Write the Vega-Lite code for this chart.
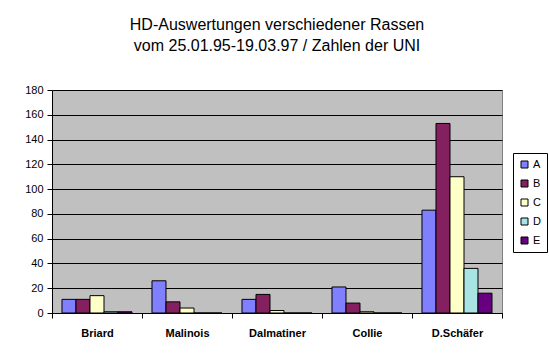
{
  "$schema": "https://vega.github.io/schema/vega-lite/v6.json",
  "autosize": "none",
  "width": 450,
  "height": 223,
  "padding": {"left": 52, "top": 90, "right": 47, "bottom": 46},
  "background": "white",
  "title": {
    "text": ["HD-Auswertungen verschiedener Rassen", "vom 25.01.95-19.03.97 / Zahlen der UNI"],
    "font": "Liberation Sans",
    "fontSize": 16,
    "fontWeight": "normal",
    "lineHeight": 21,
    "color": "black",
    "anchor": "middle",
    "offset": 30
  },
  "data": {
    "values": [
      {"rasse": "Briard", "grad": "A", "anzahl": 11},
      {"rasse": "Briard", "grad": "B", "anzahl": 11},
      {"rasse": "Briard", "grad": "C", "anzahl": 14},
      {"rasse": "Briard", "grad": "D", "anzahl": 1},
      {"rasse": "Briard", "grad": "E", "anzahl": 1},
      {"rasse": "Malinois", "grad": "A", "anzahl": 26},
      {"rasse": "Malinois", "grad": "B", "anzahl": 9},
      {"rasse": "Malinois", "grad": "C", "anzahl": 4},
      {"rasse": "Malinois", "grad": "D", "anzahl": 0},
      {"rasse": "Malinois", "grad": "E", "anzahl": 0},
      {"rasse": "Dalmatiner", "grad": "A", "anzahl": 11},
      {"rasse": "Dalmatiner", "grad": "B", "anzahl": 15},
      {"rasse": "Dalmatiner", "grad": "C", "anzahl": 2},
      {"rasse": "Dalmatiner", "grad": "D", "anzahl": 0},
      {"rasse": "Dalmatiner", "grad": "E", "anzahl": 0},
      {"rasse": "Collie", "grad": "A", "anzahl": 21},
      {"rasse": "Collie", "grad": "B", "anzahl": 8},
      {"rasse": "Collie", "grad": "C", "anzahl": 1},
      {"rasse": "Collie", "grad": "D", "anzahl": 0},
      {"rasse": "Collie", "grad": "E", "anzahl": 0},
      {"rasse": "D.Schäfer", "grad": "A", "anzahl": 83},
      {"rasse": "D.Schäfer", "grad": "B", "anzahl": 153},
      {"rasse": "D.Schäfer", "grad": "C", "anzahl": 110},
      {"rasse": "D.Schäfer", "grad": "D", "anzahl": 36},
      {"rasse": "D.Schäfer", "grad": "E", "anzahl": 16}
    ]
  },
  "mark": {"type": "bar", "stroke": "black", "strokeWidth": 1},
  "encoding": {
    "x": {
      "field": "rasse",
      "type": "nominal",
      "sort": ["Briard", "Malinois", "Dalmatiner", "Collie", "D.Schäfer"],
      "scale": {"paddingInner": 0, "paddingOuter": 0},
      "axis": {
        "title": null,
        "labelAngle": 0,
        "labelFont": "Liberation Sans",
        "labelFontSize": 11,
        "labelFontWeight": "bold",
        "labelColor": "black",
        "labelPadding": 9,
        "domainColor": "black",
        "tickColor": "black",
        "tickSize": 5,
        "tickBand": "extent",
        "grid": false
      }
    },
    "xOffset": {
      "field": "grad",
      "type": "nominal",
      "scale": {"paddingInner": 0, "paddingOuter": 0.714}
    },
    "y": {
      "field": "anzahl",
      "type": "quantitative",
      "scale": {"domain": [0, 180], "nice": false},
      "axis": {
        "title": null,
        "values": [0, 20, 40, 60, 80, 100, 120, 140, 160, 180],
        "labelFont": "Liberation Sans",
        "labelFontSize": 11,
        "labelColor": "black",
        "labelPadding": 4,
        "domainColor": "black",
        "tickColor": "black",
        "tickSize": 5,
        "grid": true,
        "gridColor": "black",
        "gridOpacity": 1,
        "gridWidth": 1
      }
    },
    "color": {
      "field": "grad",
      "type": "nominal",
      "scale": {
        "domain": ["A", "B", "C", "D", "E"],
        "range": ["#8080FF", "#852060", "#FFFFC8", "#A8E4E4", "#660080"]
      },
      "legend": {
        "title": null,
        "orient": "none",
        "legendX": 461,
        "legendY": 63,
        "strokeColor": "black",
        "padding": 6,
        "symbolType": "square",
        "symbolSize": 49,
        "symbolStrokeColor": "black",
        "symbolStrokeWidth": 1,
        "labelFont": "Liberation Sans",
        "labelFontSize": 11,
        "labelColor": "black",
        "labelOffset": 3,
        "rowPadding": 7
      }
    }
  },
  "config": {
    "view": {"fill": "#C0C0C0", "stroke": "#808080", "strokeWidth": 1}
  }
}
